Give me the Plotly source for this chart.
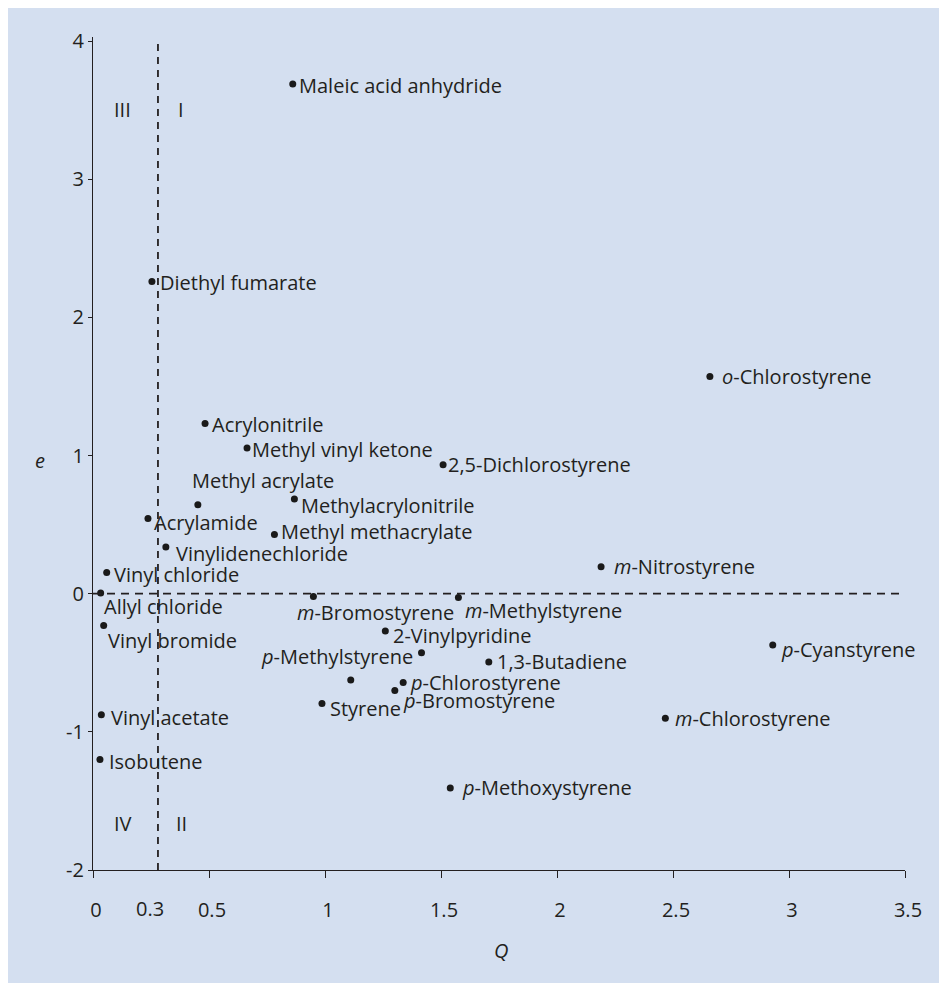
import plotly.graph_objects as go

# ---- data (Q, e values) ----
names = [
    "Maleic acid anhydride", "Diethyl fumarate", "Acrylonitrile", "Methyl vinyl ketone",
    "2,5-Dichlorostyrene", "Methyl acrylate", "Methylacrylonitrile", "Acrylamide",
    "Methyl methacrylate", "Vinylidenechloride", "Vinyl chloride", "Allyl chloride",
    "Vinyl bromide", "<i>m</i>-Bromostyrene", "<i>m</i>-Methylstyrene", "2-Vinylpyridine",
    "<i>p</i>-Methylstyrene", "", "1,3-Butadiene", "<i>p</i>-Chlorostyrene",
    "<i>p</i>-Bromostyrene", "Styrene", "<i>p</i>-Methoxystyrene", "<i>m</i>-Chlorostyrene",
    "<i>m</i>-Nitrostyrene", "<i>o</i>-Chlorostyrene", "<i>p</i>-Cyanstyrene",
    "Vinyl acetate", "Isobutene",
]
Q = [0.861, 0.254, 0.483, 0.664, 1.509, 0.452, 0.868, 0.237, 0.782, 0.314, 0.059, 0.033,
     0.046, 0.950, 1.575, 1.260, 1.416, 1.111, 1.706, 1.337, 1.301, 0.987, 1.540, 2.467,
     2.190, 2.659, 2.930, 0.036, 0.030]
e = [3.69, 2.26, 1.232, 1.054, 0.933, 0.644, 0.685, 0.545, 0.429, 0.338, 0.154, 0.005,
     -0.23, -0.02, -0.027, -0.27, -0.427, -0.624, -0.494, -0.642, -0.70, -0.794, -1.406,
     -0.902, 0.195, 1.572, -0.371, -0.876, -1.201]

x_ticks = [0, 0.5, 1, 1.5, 2, 2.5, 3, 3.5]
x_ticktext = ["0", "0.5", "1", "1.5", "2", "2.5", "3", "3.5"]
y_ticks = [-2, -1, 0, 1, 2, 3, 4]
y_ticktext = ["-2", "-1", "0", "1", "2", "3", "4"]
q_divider = 0.28
q_divider_label = "0.3"
quadrants = ["III", "I", "IV", "II"]
quadrant_q = [0.129, 0.38, 0.129, 0.38]
quadrant_e = [3.507, 3.507, -1.666, -1.666]

# ---- label placement (style: anchor, x-shift px, y-shift px) ----
label_style = [
    ("left", 4, -2), ("left", 6, -1), ("left", 5, -1), ("left", 3, -1),
    ("left", 3, 0), ("left", -8, 24), ("left", 5, -6), ("left", 4, -4),
    ("left", 5, 3), ("left", 8, -6), ("left", 5, -2), ("left", 1, -13),
    ("left", 2, -15), ("left", -18, -16), ("left", 5, -13), ("left", 6, -4),
    ("right", -7, -4), ("left", 0, 0), ("left", 6, 0), ("left", 5, 0),
    ("left", 6, -10), ("left", 6, -5), ("left", 10, 0), ("left", 8, 0),
    ("left", 11, 0), ("left", 10, 0), ("left", 6, -5),
    ("left", 8, -3), ("left", 7, -2),
]

FONT = "Open Sans, DejaVu Sans, sans-serif"
TXT = "#231f20"
BG = "#d4dff0"
FS = 20

fig = go.Figure()
fig.add_trace(go.Scatter(
    x=Q, y=e, mode="markers",
    marker=dict(size=7, color="#1a1a1a"),
    hovertext=names, hoverinfo="text", showlegend=False,
))

annotations = []
for n, q, v, (anc, dx, dy) in zip(names, Q, e, label_style):
    if not n:
        continue
    annotations.append(dict(
        x=q, y=v, xref="x", yref="y", text=n, showarrow=False,
        xanchor=anc, yanchor="middle", xshift=dx, yshift=dy,
        font=dict(family=FONT, size=FS, color=TXT),
    ))
for t, q, v in zip(quadrants, quadrant_q, quadrant_e):
    annotations.append(dict(
        x=q, y=v, xref="x", yref="y", text=t, showarrow=False,
        xanchor="center", yanchor="middle",
        font=dict(family=FONT, size=FS, color=TXT),
    ))
# extra "0.3" tick label
annotations.append(dict(
    x=0.244, y=-2, xref="x", yref="y", text=q_divider_label, showarrow=False,
    xanchor="center", yanchor="middle", yshift=-38,
    font=dict(family=FONT, size=FS, color=TXT),
))
# axis titles
annotations.append(dict(
    x=1.76, y=0, xref="x", yref="paper", text="<i>Q</i>", showarrow=False,
    xanchor="center", yanchor="middle", yshift=-80,
    font=dict(family=FONT, size=FS, color=TXT),
))
annotations.append(dict(
    x=0, y=0.962, xref="paper", yref="y", text="<i>e</i>", showarrow=False,
    xanchor="center", yanchor="middle", xshift=-53,
    font=dict(family=FONT, size=FS, color=TXT),
))

W, H = 939, 978
L, R, T, B = 85, 42, 29, 116
pw, ph = W - L - R, H - T - B
shapes = [
    # light-blue panel
    dict(type="rect", xref="paper", yref="paper",
         x0=-L / pw, x1=(936 - L) / pw, y0=-(B - 3) / ph, y1=(ph + T) / ph,
         fillcolor=BG, line=dict(width=0), layer="below"),
    # dashed dividers
    dict(type="line", xref="x", yref="y", x0=q_divider, x1=q_divider, y0=-2, y1=4,
         line=dict(color=TXT, width=1.8, dash="7px,6px")),
    dict(type="line", xref="x", yref="y", x0=0, x1=3.5, y0=0, y1=0,
         line=dict(color=TXT, width=1.8, dash="8px,6px")),
]

fig.update_layout(
    width=W, height=H,
    margin=dict(l=L, r=R, t=T, b=B),
    paper_bgcolor="white", plot_bgcolor="rgba(0,0,0,0)",
    font=dict(family=FONT, size=FS, color=TXT),
    annotations=annotations, shapes=shapes,
    showlegend=False,
)
fig.update_xaxes(
    range=[0, 3.5], tickvals=x_ticks, ticktext=x_ticktext,
    showgrid=False, zeroline=False, showline=True, linecolor=TXT, linewidth=1.3,
    ticks="outside", ticklen=7, tickwidth=1.3, tickcolor=TXT,
    ticklabelstandoff=15, ticklabelshift=3,
    tickfont=dict(family=FONT, size=FS, color=TXT),
)
fig.update_yaxes(
    range=[-2, 4.03], tickvals=y_ticks, ticktext=y_ticktext,
    showgrid=False, zeroline=False, showline=True, linecolor=TXT, linewidth=1.3,
    ticks="outside", ticklen=4, tickwidth=1.3, tickcolor=TXT,
    tickfont=dict(family=FONT, size=FS, color=TXT),
)

fig.write_html("out.html")
